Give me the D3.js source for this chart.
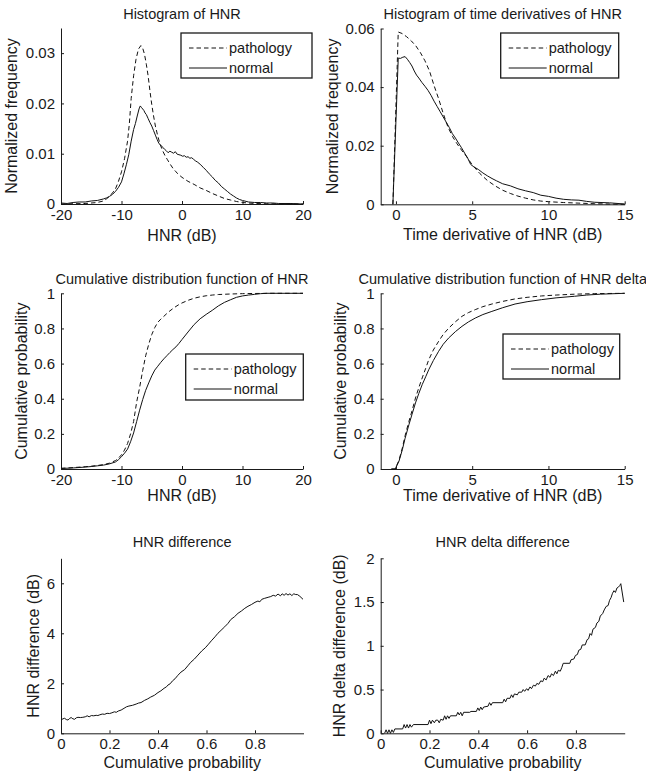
<!DOCTYPE html>
<html>
<head>
<meta charset="utf-8">
<script src="https://cdn.jsdelivr.net/npm/d3@7"></script>
<style>
  body { margin: 0; background: #fff; }
  svg { display: block; }
</style>
</head>
<body>
<div id="chart"></div>
<script>
// Histogram of HNR
const hnrPathX = [-20, -16, -14, -13, -12.5, -12, -11.5, -11, -10.5, -10, -9.5, -9, -8.7, -8.4, -8, -7.6, -7.2, -6.8, -6.5, -6.2, -5.9, -5.6, -5.3, -5, -4.7, -4.4, -4, -3.6, -3.2, -2.8, -2.4, -2, -1.5, -1, -0.5, 0, 1, 2, 3, 4, 5, 6, 7, 8, 9, 10, 11, 12, 14, 20];
const hnrPathY = [0, 0.0001, 0.0003, 0.0006, 0.001, 0.0015, 0.0022, 0.003, 0.0045, 0.0064, 0.009, 0.0125, 0.016, 0.021, 0.0255, 0.0288, 0.0308, 0.0315, 0.031, 0.0298, 0.0278, 0.0255, 0.0225, 0.0198, 0.0175, 0.0155, 0.0135, 0.0118, 0.0106, 0.0096, 0.0088, 0.008, 0.0071, 0.0064, 0.0058, 0.0053, 0.0045, 0.0039, 0.0032, 0.0027, 0.0021, 0.0016, 0.0011, 0.0008, 0.0005, 0.0003, 0.0002, 0.0001, 0.00005, 0];
const hnrNormX = [-20, -19, -18, -17, -16, -15, -14, -13, -12.5, -12, -11.5, -11, -10.5, -10, -9.6, -9.2, -8.8, -8.4, -8, -7.7, -7.4, -7.1, -6.9, -6.7, -6.5, -6.3, -6.1, -5.9, -5.6, -5.3, -5, -4.7, -4.4, -4.1, -3.8, -3.5, -3.2, -2.9, -2.6, -2.3, -2, -1.7, -1.4, -1.1, -0.8, -0.5, -0.2, 0.1, 0.4, 0.7, 1, 1.3, 1.6, 1.9, 2.2, 2.6, 3, 3.5, 4, 4.5, 5, 5.5, 6, 6.5, 7, 7.5, 8, 8.5, 9, 9.5, 10, 11, 12, 13, 14, 15, 16, 18, 20];
const hnrNormY = [0.0002, 0.0001, 0.0003, 0.0004, 0.0004, 0.0006, 0.0007, 0.001, 0.0012, 0.0015, 0.0019, 0.0025, 0.0033, 0.0044, 0.006, 0.0078, 0.0098, 0.0125, 0.0148, 0.016, 0.0175, 0.0189, 0.0195, 0.0192, 0.0189, 0.0186, 0.0181, 0.0178, 0.017, 0.0162, 0.0155, 0.0146, 0.0137, 0.0128, 0.012, 0.0117, 0.0113, 0.0109, 0.0106, 0.0102, 0.0105, 0.0103, 0.0101, 0.0104, 0.0099, 0.0098, 0.0097, 0.0095, 0.0096, 0.0093, 0.0094, 0.0091, 0.0092, 0.0089, 0.0086, 0.0083, 0.0079, 0.0073, 0.0067, 0.006, 0.0054, 0.0047, 0.0042, 0.0035, 0.003, 0.0025, 0.002, 0.0016, 0.0012, 0.0009, 0.0007, 0.0004, 0.0003, 0.0003, 0.0002, 0.0002, 0.0001, 0.0001, 0];

// Histogram of time derivatives
const dPathX = [-0.2, 0.15, 0.4, 0.7, 1.0, 1.3, 1.6, 1.9, 2.2, 2.5, 2.8, 3.1, 3.4, 3.7, 4.0, 4.3, 4.6, 5.0, 5.5, 6.0, 6.5, 7.0, 7.5, 8.0, 8.5, 9.0, 9.5, 10, 11, 12, 13, 14, 15];
const dPathY = [0, 0.0588, 0.0583, 0.0572, 0.0558, 0.0541, 0.0518, 0.049, 0.0455, 0.0405, 0.036, 0.031, 0.0265, 0.0232, 0.0207, 0.0185, 0.0165, 0.0135, 0.0105, 0.0081, 0.0063, 0.0048, 0.0037, 0.0028, 0.0021, 0.0015, 0.0011, 0.0009, 0.0006, 0.0004, 0.0002, 0.0001, 0];
const dNormX = [-0.2, 0.15, 0.3, 0.45, 0.6, 0.75, 0.9, 1.05, 1.2, 1.35, 1.5, 1.7, 1.9, 2.1, 2.3, 2.5, 2.7, 2.9, 3.1, 3.3, 3.5, 3.7, 3.9, 4.1, 4.3, 4.5, 4.7, 4.9, 5.1, 5.4, 5.7, 6.0, 6.3, 6.6, 7.0, 7.5, 8.0, 8.5, 9.0, 9.5, 10, 10.5, 11, 11.5, 12, 12.5, 13, 14, 15];
const dNormY = [0, 0.0499, 0.0498, 0.0502, 0.0504, 0.0495, 0.0484, 0.0472, 0.0455, 0.0441, 0.0431, 0.0416, 0.0403, 0.0389, 0.0372, 0.0352, 0.0334, 0.0316, 0.0298, 0.028, 0.0262, 0.0241, 0.0226, 0.0209, 0.0193, 0.0175, 0.0158, 0.0136, 0.0128, 0.0119, 0.0107, 0.0097, 0.0088, 0.008, 0.007, 0.0063, 0.0053, 0.0046, 0.004, 0.0031, 0.0027, 0.0021, 0.0017, 0.0015, 0.0014, 0.001, 0.0007, 0.0005, 0.0001];

// CDF of HNR
const cdfPathX = [-20, -18, -16, -15, -14, -13, -12, -11, -10.5, -10, -9.5, -9, -8.5, -8, -7.5, -7, -6.5, -6, -5.5, -5, -4.5, -4, -3.5, -3, -2.5, -2, -1.5, -1, -0.5, 0, 1, 2, 3, 4, 5, 6, 8, 10, 12, 15, 20];
const cdfPathY = [0.004, 0.008, 0.013, 0.016, 0.02, 0.025, 0.033, 0.048, 0.062, 0.081, 0.108, 0.145, 0.2, 0.27, 0.38, 0.465, 0.56, 0.645, 0.71, 0.765, 0.805, 0.835, 0.853, 0.869, 0.885, 0.9, 0.913, 0.925, 0.936, 0.945, 0.96, 0.972, 0.98, 0.986, 0.99, 0.993, 0.996, 0.998, 0.999, 1, 1];
const cdfNormX = [-20, -18, -16, -15, -14, -13, -12, -11, -10.5, -10, -9.5, -9, -8.5, -8, -7.5, -7, -6.5, -6, -5.5, -5, -4.5, -4, -3.5, -3, -2.5, -2, -1.5, -1, -0.5, 0, 1, 2, 3, 4, 5, 6, 7, 8, 9, 10, 11, 12, 13, 14, 20];
const cdfNormY = [0.003, 0.006, 0.011, 0.014, 0.018, 0.022, 0.029, 0.04, 0.053, 0.07, 0.09, 0.113, 0.155, 0.205, 0.27, 0.335, 0.395, 0.448, 0.49, 0.53, 0.563, 0.585, 0.607, 0.627, 0.645, 0.663, 0.68, 0.695, 0.715, 0.737, 0.78, 0.822, 0.855, 0.88, 0.903, 0.928, 0.948, 0.963, 0.977, 0.985, 0.99, 0.994, 0.998, 1, 1];

// CDF of HNR delta
const cdfdPathX = [-0.3, -0.05, 0.2, 0.42, 0.6, 0.85, 1.05, 1.28, 1.5, 1.72, 1.95, 2.15, 2.45, 2.8, 3.1, 3.46, 3.9, 4.33, 4.75, 5.2, 5.7, 6.29, 7, 7.81, 8.6, 9.55, 10.5, 11.7, 13, 15];
const cdfdPathY = [0, 0, 0.05, 0.12, 0.19, 0.271, 0.33, 0.404, 0.463, 0.518, 0.573, 0.622, 0.677, 0.727, 0.766, 0.802, 0.838, 0.869, 0.89, 0.907, 0.924, 0.939, 0.954, 0.968, 0.977, 0.985, 0.99, 0.995, 0.998, 1];
const cdfdNormX = [-0.3, -0.05, 0.2, 0.42, 0.6, 0.85, 1.05, 1.28, 1.5, 1.72, 1.95, 2.15, 2.45, 2.8, 3.1, 3.46, 3.9, 4.33, 4.75, 5.2, 5.7, 6.29, 7, 7.81, 8.6, 9.55, 10.5, 11.7, 12.5, 13.4, 15];
const cdfdNormY = [0, 0, 0.045, 0.11, 0.175, 0.252, 0.31, 0.376, 0.43, 0.48, 0.525, 0.565, 0.617, 0.67, 0.71, 0.746, 0.782, 0.812, 0.837, 0.859, 0.879, 0.897, 0.918, 0.939, 0.952, 0.964, 0.974, 0.983, 0.99, 0.995, 1];

// HNR difference
const diffX = [0, 0.008, 0.015, 0.022, 0.029, 0.036, 0.042, 0.049, 0.056, 0.063, 0.07, 0.08, 0.09, 0.1, 0.108, 0.116, 0.125, 0.135, 0.145, 0.152, 0.16, 0.17, 0.18, 0.19, 0.2, 0.21, 0.22, 0.228, 0.236, 0.248, 0.26, 0.27, 0.28, 0.295, 0.31, 0.32, 0.33, 0.345, 0.358, 0.37, 0.385, 0.4, 0.412, 0.425, 0.435, 0.441, 0.45, 0.46, 0.47, 0.482, 0.495, 0.51, 0.523, 0.535, 0.55, 0.565, 0.58, 0.595, 0.606, 0.62, 0.635, 0.647, 0.66, 0.675, 0.689, 0.7, 0.715, 0.73, 0.745, 0.758, 0.771, 0.785, 0.8, 0.812, 0.82, 0.828, 0.84, 0.854, 0.865, 0.875, 0.885, 0.895, 0.905, 0.912, 0.92, 0.928, 0.936, 0.944, 0.952, 0.96, 0.968, 0.975, 0.985, 0.998];
const diffY = [0.53, 0.58, 0.6, 0.55, 0.53, 0.6, 0.63, 0.58, 0.56, 0.62, 0.64, 0.63, 0.64, 0.66, 0.7, 0.66, 0.71, 0.7, 0.72, 0.71, 0.74, 0.77, 0.76, 0.8, 0.79, 0.82, 0.86, 0.84, 0.89, 0.93, 1.0, 1.06, 1.09, 1.12, 1.17, 1.21, 1.23, 1.32, 1.38, 1.45, 1.52, 1.63, 1.7, 1.8, 1.86, 1.93, 1.98, 2.1, 2.18, 2.32, 2.45, 2.55, 2.7, 2.84, 2.97, 3.13, 3.29, 3.42, 3.54, 3.7, 3.86, 4.0, 4.12, 4.26, 4.4, 4.55, 4.66, 4.8, 4.9, 5.0, 5.08, 5.15, 5.24, 5.29, 5.26, 5.36, 5.4, 5.44, 5.47, 5.52, 5.49, 5.57, 5.5, 5.58, 5.52, 5.59, 5.53, 5.58, 5.51, 5.58, 5.55, 5.55, 5.48, 5.36];

// HNR delta difference
const ddiffX = [0.016, 0.022, 0.028, 0.034, 0.04, 0.046, 0.052, 0.058, 0.09, 0.096, 0.102, 0.108, 0.114, 0.12, 0.126, 0.134, 0.194, 0.2, 0.206, 0.212, 0.22, 0.226, 0.234, 0.24, 0.246, 0.256, 0.262, 0.268, 0.274, 0.28, 0.286, 0.31, 0.316, 0.322, 0.328, 0.334, 0.34, 0.365, 0.37, 0.392, 0.398, 0.404, 0.41, 0.416, 0.422, 0.44, 0.446, 0.452, 0.458, 0.5, 0.506, 0.512, 0.518, 0.53, 0.536, 0.542, 0.548, 0.56, 0.566, 0.578, 0.584, 0.59, 0.598, 0.604, 0.612, 0.618, 0.626, 0.634, 0.64, 0.648, 0.656, 0.664, 0.67, 0.678, 0.686, 0.694, 0.7, 0.708, 0.716, 0.722, 0.728, 0.736, 0.742, 0.748, 0.775, 0.78, 0.792, 0.798, 0.806, 0.812, 0.82, 0.826, 0.838, 0.846, 0.852, 0.858, 0.864, 0.87, 0.88, 0.886, 0.894, 0.9, 0.91, 0.916, 0.924, 0.932, 0.938, 0.944, 0.95, 0.956, 0.962, 0.968, 0.974, 0.98, 0.984, 0.996];
const ddiffY = [0, 0.04, 0, 0.04, 0, 0.04, 0.01, 0.05, 0.05, 0.1, 0.06, 0.1, 0.06, 0.1, 0.07, 0.1, 0.1, 0.15, 0.11, 0.15, 0.12, 0.15, 0.15, 0.12, 0.16, 0.15, 0.2, 0.16, 0.2, 0.17, 0.2, 0.2, 0.24, 0.21, 0.24, 0.2, 0.24, 0.24, 0.25, 0.25, 0.29, 0.26, 0.3, 0.27, 0.3, 0.31, 0.35, 0.32, 0.35, 0.35, 0.39, 0.36, 0.4, 0.4, 0.44, 0.41, 0.45, 0.44, 0.47, 0.47, 0.5, 0.48, 0.51, 0.49, 0.53, 0.51, 0.55, 0.54, 0.57, 0.56, 0.6, 0.59, 0.63, 0.61, 0.66, 0.64, 0.68, 0.66, 0.71, 0.68, 0.72, 0.71, 0.75, 0.8, 0.8, 0.84, 0.85, 0.89, 0.9, 0.95, 0.96, 1.01, 1.01, 1.07, 1.08, 1.14, 1.12, 1.19, 1.21, 1.26, 1.28, 1.34, 1.37, 1.41, 1.45, 1.46, 1.52, 1.55, 1.6, 1.63, 1.61, 1.66, 1.67, 1.69, 1.71, 1.5];

// tick values and labels
const hnrTicks = [-20, -10, 0, 10, 20];
const hnrTickLabels = ["-20", "-10", "0", "10", "20"];
const derivTicks = [0, 5, 10, 15];
const derivTickLabels = ["0", "5", "10", "15"];
const freqTicks1 = [0, 0.01, 0.02, 0.03];
const freqTickLabels1 = ["0", "0.01", "0.02", "0.03"];
const freqTicks2 = [0, 0.02, 0.04, 0.06];
const freqTickLabels2 = ["0", "0.02", "0.04", "0.06"];
const probTicks = [0, 0.2, 0.4, 0.6, 0.8, 1];
const probTickLabels = ["0", "0.2", "0.4", "0.6", "0.8", "1"];
const cumTicks = [0, 0.2, 0.4, 0.6, 0.8];
const cumTickLabels = ["0", "0.2", "0.4", "0.6", "0.8"];
const diffTicks = [0, 2, 4, 6];
const diffTickLabels = ["0", "2", "4", "6"];
const ddiffTicks = [0, 0.5, 1, 1.5, 2];
const ddiffTickLabels = ["0", "0.5", "1", "1.5", "2"];
const legendNames = ["pathology", "normal"];

const W = 646, H = 774;
const FONT = '"Liberation Sans", Arial, Helvetica, sans-serif';
const INK = "#1a1a1a";

const svg = d3.select("#chart").append("svg")
  .attr("width", W)
  .attr("height", H)
  .style("background", "#fff");

function panel(p) {
  const x = d3.scaleLinear().domain(p.xDomain).range([p.left, p.right]);
  const y = d3.scaleLinear().domain(p.yDomain).range([p.bottom, p.top]);
  const g = svg.append("g");

  // axes, MATLAB style ticks pointing inward
  const ax = g.append("g")
    .attr("transform", `translate(0,${p.bottom})`)
    .call(d3.axisBottom(x).tickValues(p.xTicks).tickFormat((d, i) => p.xLabels[i])
      .tickSizeInner(-3).tickSizeOuter(0).tickPadding(5));
  const ay = g.append("g")
    .attr("transform", `translate(${p.left},0)`)
    .call(d3.axisLeft(y).tickValues(p.yTicks).tickFormat((d, i) => p.yLabels[i])
      .tickSizeInner(-3).tickSizeOuter(0).tickPadding(6));
  [ax, ay].forEach(a => {
    a.attr("font-family", FONT).attr("font-size", 15).attr("color", INK);
    a.select(".domain").attr("stroke-width", 1);
  });

  // curves
  p.series.forEach(s => {
    g.append("path")
      .datum(d3.zip(s.x, s.y))
      .attr("fill", "none")
      .attr("stroke", "#111")
      .attr("stroke-width", 1)
      .attr("stroke-dasharray", s.dashed ? "4.5,3" : null)
      .attr("d", d3.line().x(d => x(d[0])).y(d => y(d[1])));
  });

  // texts
  const cx = (p.left + p.right) / 2, cy = (p.top + p.bottom) / 2;
  g.append("text").attr("x", cx).attr("y", p.titleY)
    .attr("text-anchor", "middle").attr("font-family", FONT).attr("font-size", 14.5)
    .attr("fill", INK).text(p.title);
  g.append("text").attr("x", cx).attr("y", p.xlabelY)
    .attr("text-anchor", "middle").attr("font-family", FONT).attr("font-size", 16)
    .attr("fill", INK).text(p.xlabel);
  g.append("text").attr("transform", `translate(${p.ylabelX},${cy}) rotate(-90)`)
    .attr("text-anchor", "middle").attr("font-family", FONT).attr("font-size", 16)
    .attr("fill", INK).text(p.ylabel);

  // legend
  if (p.legend) {
    const L = p.legend;
    const lg = g.append("g");
    lg.append("rect").attr("x", L.x).attr("y", L.y).attr("width", L.w).attr("height", L.h)
      .attr("fill", "#fff").attr("stroke", INK).attr("stroke-width", 1.3);
    legendNames.forEach((name, i) => {
      const ry = L.y + (i === 0 ? 15 : 35);
      lg.append("line").attr("x1", L.x + 8).attr("x2", L.x + 46).attr("y1", ry).attr("y2", ry)
        .attr("stroke", "#111").attr("stroke-width", 1)
        .attr("stroke-dasharray", i === 0 ? "4.5,3" : null);
      lg.append("text").attr("x", L.x + 48).attr("y", ry).attr("dy", "0.35em")
        .attr("font-family", FONT).attr("font-size", 14.5).attr("fill", INK).text(name);
    });
  }
}

const colL = {left: 61, right: 303};
const colR = {left: 380.7, right: 624.7};

panel({...colL, top: 28, bottom: 204, xDomain: [-20, 20], yDomain: [0, 0.035],
  xTicks: hnrTicks, xLabels: hnrTickLabels, yTicks: freqTicks1, yLabels: freqTickLabels1,
  title: "Histogram of HNR", titleY: 18.5, xlabel: "HNR (dB)", xlabelY: 240.5,
  ylabel: "Normalized frequency", ylabelX: 17,
  series: [{x: hnrPathX, y: hnrPathY, dashed: true}, {x: hnrNormX, y: hnrNormY}],
  legend: {x: 181, y: 33, w: 131, h: 45}});

panel({...colR, top: 28.5, bottom: 204.3, xDomain: [-1, 15], yDomain: [0, 0.06],
  xTicks: derivTicks, xLabels: derivTickLabels, yTicks: freqTicks2, yLabels: freqTickLabels2,
  title: "Histogram of time derivatives of HNR", titleY: 18.5,
  xlabel: "Time derivative of HNR (dB)", xlabelY: 240,
  ylabel: "Normalized frequency", ylabelX: 338,
  series: [{x: dPathX, y: dPathY, dashed: true}, {x: dNormX, y: dNormY}],
  legend: {x: 500.7, y: 33, w: 118, h: 45}});

panel({...colL, top: 293.3, bottom: 469, xDomain: [-20, 20], yDomain: [0, 1],
  xTicks: hnrTicks, xLabels: hnrTickLabels, yTicks: probTicks, yLabels: probTickLabels,
  title: "Cumulative distribution function of HNR", titleY: 284,
  xlabel: "HNR (dB)", xlabelY: 501,
  ylabel: "Cumulative probability", ylabelX: 26.5,
  series: [{x: cdfPathX, y: cdfPathY, dashed: true}, {x: cdfNormX, y: cdfNormY}],
  legend: {x: 185.7, y: 354, w: 117.6, h: 46}});

panel({...colR, top: 293.3, bottom: 469, xDomain: [-1, 15], yDomain: [0, 1],
  xTicks: derivTicks, xLabels: derivTickLabels, yTicks: probTicks, yLabels: probTickLabels,
  title: "Cumulative distribution function of HNR delta", titleY: 284,
  xlabel: "Time derivative of HNR (dB)", xlabelY: 500.5,
  ylabel: "Cumulative probability", ylabelX: 346,
  series: [{x: cdfdPathX, y: cdfdPathY, dashed: true}, {x: cdfdNormX, y: cdfdNormY}],
  legend: {x: 503, y: 334, w: 116.7, h: 45}});

panel({left: 61, right: 303.5, top: 558.3, bottom: 733.3, xDomain: [0, 1], yDomain: [0, 7],
  xTicks: cumTicks, xLabels: cumTickLabels, yTicks: diffTicks, yLabels: diffTickLabels,
  title: "HNR difference", titleY: 547,
  xlabel: "Cumulative probability", xlabelY: 768,
  ylabel: "HNR difference (dB)", ylabelX: 39,
  series: [{x: diffX, y: diffY}]});

panel({...colR, top: 558.3, bottom: 733.3, xDomain: [0, 1], yDomain: [0, 2],
  xTicks: cumTicks, xLabels: cumTickLabels, yTicks: ddiffTicks, yLabels: ddiffTickLabels,
  title: "HNR delta difference", titleY: 547,
  xlabel: "Cumulative probability", xlabelY: 768,
  ylabel: "HNR delta difference (dB)", ylabelX: 345,
  series: [{x: ddiffX, y: ddiffY}]});
</script>
</body>
</html>
